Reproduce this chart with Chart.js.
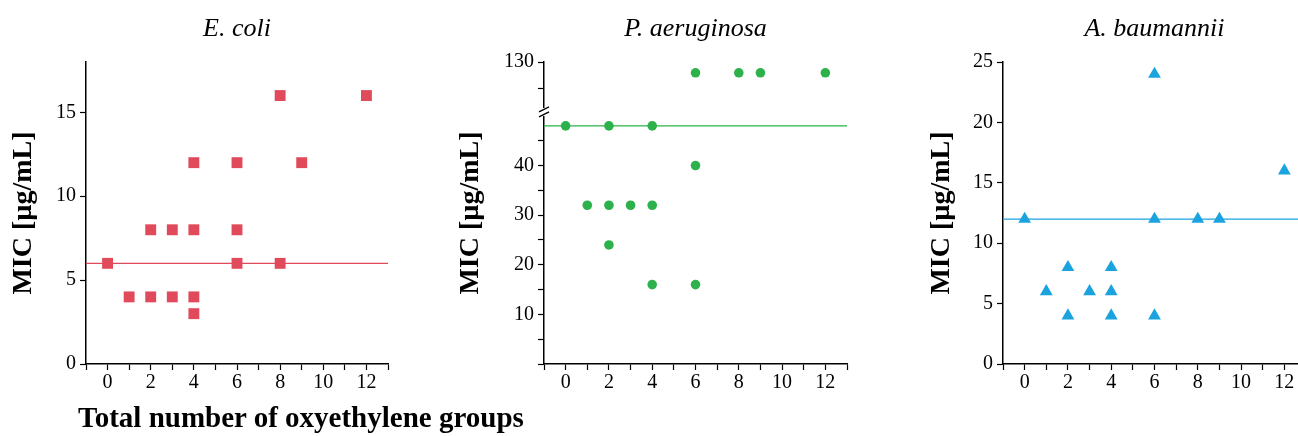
<!DOCTYPE html>
<html><head><meta charset="utf-8">
<script src="https://cdn.jsdelivr.net/npm/chart.js@4.4.1/dist/chart.umd.min.js"></script>
<style>
html,body{margin:0;padding:0;background:#fff;width:1298px;height:436px;overflow:hidden;position:relative}
canvas{position:absolute;top:0}
#xlab{position:absolute;left:78px;top:403px;font:bold 29px/28px 'Liberation Serif','Times New Roman',serif;color:#000;white-space:nowrap}
</style></head><body>
<canvas id="c1" width="400" height="436" style="left:0px"></canvas>
<canvas id="c2" width="412" height="436" style="left:447px"></canvas>
<canvas id="c3" width="400" height="436" style="left:918px"></canvas>
<div id="xlab">Total number of oxyethylene groups</div>
<script>
// ---- data ----
const panelTitles = ['E. coli', 'P. aeruginosa', 'A. baumannii'];
const yAxisTitle = 'MIC [µg/mL]';
const xTickLabels = [0, 2, 4, 6, 8, 10, 12];

const ecoliX = [0, 1, 2, 2, 3, 3, 4, 4, 4, 4, 6, 6, 6, 8, 8, 9, 12];
const ecoliY = [6, 4, 8, 4, 8, 4, 12, 8, 4, 3, 12, 8, 6, 16, 6, 12, 16];
const ecoliRef = 6;
const ecoliYTicks = [0, 5, 10, 15];

const paeX = [0, 2, 4, 6, 1, 2, 3, 4, 2, 4, 6, 6, 8, 9, 12];
const paeY = [48, 48, 48, 40, 32, 32, 32, 32, 24, 16, 16, 128, 128, 128, 128];
const paeRef = 48;
const paeLowTicks = [10, 20, 30, 40];
const paeHighTicks = [130];

const abauX = [0, 1, 2, 2, 3, 4, 4, 4, 6, 6, 6, 8, 9, 12];
const abauY = [12, 6, 8, 4, 6, 8, 6, 4, 24, 12, 4, 12, 12, 16];
const abauRef = 12;
const abauYTicks = [0, 5, 10, 15, 20, 25];

// ---- style ----
const FONT = "'Liberation Serif','Times New Roman',serif";
const RED = '#E04A5A', GREEN = '#2DB24B', BLUE = '#1BA3E0';
Chart.defaults.font.family = FONT;
Chart.defaults.color = '#000';

const zip = (xs, ys) => xs.map((x, i) => ({x, y: ys[i]}));
const hide = (vals) => (ctx) => vals.includes(ctx.tick && ctx.tick.value) ? 'rgba(0,0,0,0)' : '#000';

function xScale() {
  return {
    type: 'linear', min: -1, max: 13,
    border: {display: true, color: '#000', width: 1.5},
    grid: {drawOnChartArea: false, drawTicks: true, tickLength: 6, color: '#000', tickWidth: 1.2},
    ticks: {stepSize: 1, autoSkip: false, maxRotation: 0, padding: 1, font: {size: 20}, color: '#000',
      callback: v => xTickLabels.includes(v) ? String(v) : ''},
    afterFit: s => { s.height = 72; }
  };
}
function yScale(min, max, labels, width, extra) {
  return Object.assign({
    type: 'linear', position: 'left', min, max,
    border: {display: true, color: '#000', width: 1.5},
    grid: {drawOnChartArea: false, drawTicks: true, tickLength: 6, color: '#000', tickWidth: 1.2},
    ticks: {stepSize: 5, includeBounds: false, autoSkip: false, padding: 4, font: {size: 20}, color: '#000',
      callback: v => labels.includes(v) ? String(v) : ''},
    afterFit: s => { s.width = width; }
  }, extra || {});
}
const yTitleOpt = {display: true, text: yAxisTitle, color: '#000', font: {size: 28, weight: 'bold'}, padding: {top: 6.7, bottom: 0}};
function titleOpt(t) {
  return {display: true, text: t, fullSize: false, color: '#000',
    font: {size: 26, style: 'italic', weight: 'normal'}, padding: {top: 13.6, bottom: 17.2}};
}
function baseOptions(title, scales) {
  return {
    responsive: false, animation: false, devicePixelRatio: 1,
    layout: {padding: {left: 0, right: 12, top: 0, bottom: 0}},
    plugins: {legend: {display: false}, tooltip: {enabled: false}, title: titleOpt(title)},
    scales
  };
}
function refLine(val, color, axis) {
  return {type: 'line', data: [{x: -1, y: val}, {x: 13, y: val}], showLine: true, borderColor: color,
    borderWidth: 1.3, pointRadius: 0, fill: false, yAxisID: axis || 'y', order: 2};
}

// ---- E. coli ----
new Chart(document.getElementById('c1'), {
  type: 'scatter',
  data: {datasets: [
    {data: zip(ecoliX, ecoliY), pointStyle: 'rect', pointRadius: 7.7, pointBorderWidth: 0,
     backgroundColor: RED, borderColor: RED, order: 1},
    refLine(ecoliRef, RED)
  ]},
  options: baseOptions(panelTitles[0], {
    x: xScale(),
    y: yScale(0, 18, ecoliYTicks, 86, {title: yTitleOpt})
  })
});

// ---- P. aeruginosa (broken axis via stacked scales) ----
const paeLow = zip(paeX, paeY).filter(p => p.y <= 50);
const paeHigh = zip(paeX, paeY).filter(p => p.y > 50);
const breakPlugin = {
  id: 'axisBreak',
  afterDraw(chart) {
    const ctx = chart.ctx;
    const x = chart.chartArea.left;
    const b = chart.scales.y2.bottom - 3;
    ctx.save();
    ctx.fillStyle = '#fff';
    ctx.fillRect(x - 3, b - 5, 6, 8);
    ctx.strokeStyle = '#000';
    ctx.lineWidth = 1.3;
    ctx.beginPath();
    ctx.moveTo(x - 5, b - 1); ctx.lineTo(x + 5, b - 6);
    ctx.moveTo(x - 5, b + 4); ctx.lineTo(x + 5, b - 1);
    ctx.stroke();
    ctx.restore();
  }
};
new Chart(document.getElementById('c2'), {
  type: 'scatter',
  data: {datasets: [
    {data: paeLow, yAxisID: 'y', pointStyle: 'circle', pointRadius: 4.8, pointBorderWidth: 0,
     backgroundColor: GREEN, borderColor: GREEN, order: 1},
    {data: paeHigh, yAxisID: 'y2', pointStyle: 'circle', pointRadius: 4.8, pointBorderWidth: 0,
     backgroundColor: GREEN, borderColor: GREEN, order: 1},
    refLine(paeRef, GREEN, 'y')
  ]},
  options: baseOptions(panelTitles[1], {
    x: xScale(),
    y: yScale(0, 50, paeLowTicks, 50, {stack: 'v', stackWeight: 4.6,
      grid: {drawOnChartArea: false, drawTicks: true, tickLength: 6, tickWidth: 1.2, color: '#000', tickColor: hide([50])}}),
    y2: yScale(120, 130, paeHighTicks, 50, {stack: 'v', stackWeight: 1,
      grid: {drawOnChartArea: false, drawTicks: true, tickLength: 6, tickWidth: 1.2, color: '#000', tickColor: hide([120])}}),
    yT: {type: 'linear', position: 'left', display: true,
      grid: {display: false}, border: {display: false}, ticks: {display: false},
      title: yTitleOpt, afterFit: s => { s.width = 47; }}
  }),
  plugins: [breakPlugin]
});

// ---- A. baumannii ----
new Chart(document.getElementById('c3'), {
  type: 'scatter',
  data: {datasets: [
    {data: zip(abauX, abauY), pointStyle: 'triangle', pointRadius: 7.4, pointBorderWidth: 0,
     backgroundColor: BLUE, borderColor: BLUE, order: 1},
    refLine(abauRef, BLUE)
  ]},
  options: baseOptions(panelTitles[2], {
    x: xScale(),
    y: yScale(0, 25, abauYTicks, 85, {title: yTitleOpt})
  })
});
</script>
</body></html>
